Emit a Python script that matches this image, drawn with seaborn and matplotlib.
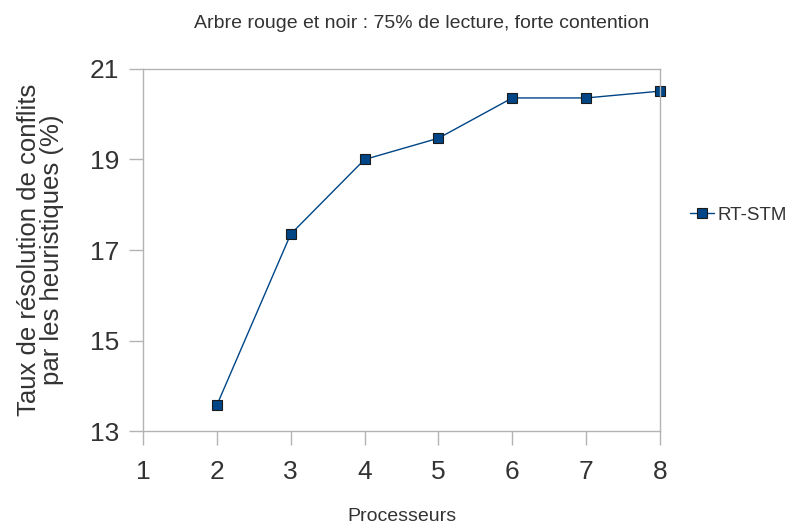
import pandas as pd
import matplotlib
matplotlib.use('Agg')
import matplotlib.pyplot as plt
import seaborn as sns

processors = [2, 3, 4, 5, 6, 7, 8]
rt_stm = [13.57, 17.35, 19.0, 19.47, 20.36, 20.36, 20.51]
series_name = 'RT-STM'

df = pd.DataFrame({'Processeurs': processors, 'taux': rt_stm, 'serie': series_name})

sns.set_style('white')
plt.rcParams['font.family'] = ['Liberation Sans', 'DejaVu Sans']

fig = plt.figure(figsize=(7.89, 5.25), dpi=100)
ax = fig.add_axes([0.1812, 0.179, 0.6553, 0.6896])

sns.lineplot(data=df, x='Processeurs', y='taux', hue='serie', palette=['#004586'],
             marker='s', markersize=7.5, markerfacecolor='#004586', markeredgecolor='#1a1a1a',
             markeredgewidth=0.8, linewidth=1, ax=ax, legend=False)
for ln in ax.lines:
    ln.set_clip_on(False)

ax.set_xlim(1, 8)
ax.set_ylim(13, 21)
ax.set_xticks(range(1, 9))
ax.set_yticks([13, 15, 17, 19, 21])
ax.tick_params(axis='both', labelsize=19, colors='#b3b3b3', labelcolor='#333333',
               length=10, width=1, direction='out', bottom=True, left=True)
ax.tick_params(axis='y', pad=7)
ax.tick_params(axis='x', pad=11)
for s in ax.spines.values():
    s.set_color('#b3b3b3')
    s.set_linewidth(1)

ax.set_xlabel('Processeurs', fontsize=14, color='#333333', labelpad=17)
ax.set_ylabel('Taux de résolution de conflits\npar les heuristiques (%)', fontsize=18.5,
              color='#333333', labelpad=19, linespacing=0.93)
fig.text(0.535, 0.956, 'Arbre rouge et noir : 75% de lecture, forte contention',
         ha='center', va='center', fontsize=14, color='#333333')

handle = plt.Line2D([], [], color='#004586', linewidth=1, marker='s', markersize=7.5,
                    markerfacecolor='#004586', markeredgecolor='#1a1a1a', markeredgewidth=0.8)
fig.legend([handle], [series_name], loc='center left', bbox_to_anchor=(0.8745, 0.59),
           frameon=False, fontsize=13.5, handlelength=1.3, handletextpad=0.15,
           borderpad=0, borderaxespad=0, labelcolor='#333333')

fig.savefig('out.png', dpi=100)
